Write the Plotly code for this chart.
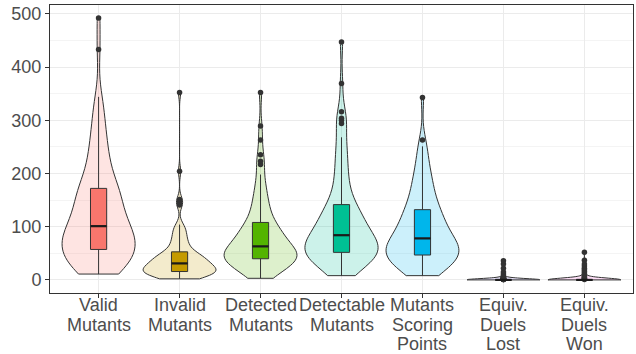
import numpy as np
import plotly.graph_objects as go

categories = ["Valid<br>Mutants", "Invalid<br>Mutants", "Detected<br>Mutants",
              "Detectable<br>Mutants", "Mutants<br>Scoring<br>Points",
              "Equiv.<br>Duels<br>Lost", "Equiv.<br>Duels<br>Won"]

valid_mutants = [
    11, 13, 15, 18, 20, 22, 25, 27, 29, 32, 34, 36, 39, 41, 43, 46, 48, 50, 53, 55, 58,
    60, 62, 64, 66, 68, 70, 73, 75, 77, 79, 81, 83, 86, 88, 90, 92, 94, 96, 99, 101,
    104, 107, 111, 115, 119, 123, 127, 131, 135, 139, 143, 147, 151, 155, 159, 162, 165, 167, 169, 171,
    175, 182, 189, 196, 203, 210, 218, 226, 234, 243, 252, 262, 273, 285, 298, 312, 330,
    344, 433, 492]

invalid_mutants = [
    2, 3, 4, 5, 5, 6, 7, 8, 8, 9, 10, 10, 11, 12, 12, 13, 14, 14, 15, 15, 16,
    17, 17, 18, 19, 19, 20, 21, 21, 22, 23, 24, 24, 25, 26, 27, 27, 28, 29, 30, 31,
    32, 33, 34, 35, 36, 37, 38, 39, 40, 41, 42, 43, 44, 45, 46, 47, 48, 50, 51, 52,
    55, 58, 61, 64, 67, 70, 73, 76, 80, 84, 88, 92, 96, 100, 104,
    141, 146, 151, 204, 352]

detected_mutants = [
    3, 6, 9, 12, 15, 17, 19, 21, 23, 25, 27, 28, 30, 31, 32, 34, 35, 36, 37, 39, 40,
    41, 42, 43, 44, 45, 46, 47, 48, 49, 50, 51, 52, 53, 54, 55, 57, 58, 60, 61, 63,
    65, 67, 69, 71, 73, 75, 77, 79, 81, 83, 85, 87, 89, 91, 93, 96, 99, 101, 104, 107,
    111, 115, 120, 125, 130, 135, 141, 147, 153, 160, 168, 176, 186, 198,
    217, 223, 235, 263, 289, 352]

detectable_mutants = [
    8, 13, 17, 21, 24, 27, 29, 31, 33, 35, 37, 39, 40, 42, 43, 45, 46, 48, 49, 51, 52,
    53, 55, 56, 58, 59, 61, 62, 64, 65, 67, 68, 70, 72, 73, 75, 77, 79, 80, 82, 84,
    86, 89, 91, 94, 96, 99, 102, 104, 107, 110, 113, 116, 119, 122, 125, 128, 131, 134, 137, 140,
    146, 153, 160, 168, 176, 185, 194, 203, 214, 224, 235, 246, 257, 268,
    294, 300, 304, 316, 369, 447]

scoring_points = [
    8, 11, 14, 17, 19, 21, 23, 25, 27, 29, 31, 33, 35, 36, 38, 40, 41, 43, 44, 46, 47,
    48, 50, 51, 53, 54, 56, 57, 59, 60, 62, 63, 65, 66, 68, 69, 71, 72, 74, 76, 78,
    80, 83, 85, 88, 90, 93, 95, 98, 100, 103, 106, 109, 112, 115, 118, 121, 124, 126, 128, 131,
    135, 140, 145, 150, 155, 159, 164, 169, 175, 181, 187, 194, 201, 208, 216, 228, 240, 251,
    263, 343]

duels_lost = [
    0, 0, 0, 0, 0, 0, 0, 0, 0, 0, 0, 0, 0, 0, 0, 0,
    0, 0, 0, 0, 0, 0, 0, 0, 0, 0, 0, 0, 0, 0, 0, 0,
    0, 0, 0, 0, 0, 0, 0, 0, 0, 0, 0, 0, 0, 0, 0, 0,
    0, 0, 0, 0, 0, 0, 0, 0, 0, 0, 0, 0, 0, 0, 0, 0,
    1, 1, 1, 1, 2, 2, 2, 2, 3, 3, 3, 4, 4, 5, 6, 8, 11, 15, 22, 30, 36]

duels_won = [
    0, 0, 0, 0, 0, 0, 0, 0, 0, 0, 0, 0, 0, 0, 0, 0, 0, 0, 0, 0, 0, 0,
    0, 0, 0, 0, 0, 0, 0, 0, 0, 0, 0, 0, 0, 0, 0, 0, 0, 0, 0, 0, 0, 0,
    0, 0, 0, 0, 0, 0, 0, 0, 0, 0, 0, 0, 0, 0, 0, 0, 0, 0, 0, 0, 0, 0,
    1, 2, 3, 4, 6, 8, 10, 13, 16, 19, 22, 26, 30, 37, 52]

series = [valid_mutants, invalid_mutants, detected_mutants, detectable_mutants,
          scoring_points, duels_lost, duels_won]

box_colors = ["#F8766D", "#C49A00", "#53B400", "#00C094", "#00B6EB", "#A58AFF", "#FB61D7"]

y_ticks = [0, 100, 200, 300, 400, 500]

VIOLIN_WIDTH = 0.9
BOX_WIDTH = 0.2


def nrd0(values):
    a = np.asarray(values, dtype=float)
    sd = a.std(ddof=1)
    q1, q3 = np.percentile(a, [25, 75])
    lo = min(sd, (q3 - q1) / 1.34)
    if lo == 0:
        lo = sd
    return 0.9 * lo * len(a) ** -0.2


def rgba(hex_color, alpha):
    h = hex_color.lstrip("#")
    r, g, b = int(h[0:2], 16), int(h[2:4], 16), int(h[4:6], 16)
    return f"rgba({r},{g},{b},{alpha})"


fig = go.Figure()
positions = list(range(len(categories)))
for pos, cat, vals, col in zip(positions, categories, series, box_colors):
    fig.add_trace(go.Violin(
        x=[pos] * len(vals), y=vals, name=cat.replace("<br>", " "),
        width=VIOLIN_WIDTH, spanmode="hard", scalemode="width",
        bandwidth=nrd0(vals),
        fillcolor=rgba(col, 0.2),
        line=dict(color="#333333", width=1),
        box=dict(visible=True, width=BOX_WIDTH / VIOLIN_WIDTH, fillcolor=col,
                 line=dict(color="#333333", width=1)),
        meanline=dict(visible=False),
        points="outliers", jitter=0, pointpos=0,
        marker=dict(color="#333333", size=5.5, line=dict(width=0)),
        showlegend=False, hoverinfo="y",
    ))

# thicker median bars (ggplot's fatten = 2), computed from the data
med_x, med_y = [], []
for pos, vals in zip(positions, series):
    m = float(np.median(vals))
    med_x += [pos - BOX_WIDTH / 2, pos + BOX_WIDTH / 2, None]
    med_y += [m, m, None]
fig.add_trace(go.Scatter(x=med_x, y=med_y, mode="lines",
                         line=dict(color="#1a1a1a", width=2.2),
                         showlegend=False, hoverinfo="skip"))

all_vals = np.concatenate([np.asarray(s, float) for s in series])
lo, hi = all_vals.min(), all_vals.max()
pad = 0.05 * (hi - lo)

FS = 18
font = dict(family="Liberation Sans, Arial, sans-serif", size=FS, color="#4D4D4D")

# category labels, one annotation per text line (ggplot-like tight line spacing)
annotations = []
for pos, cat in zip(positions, categories):
    for k, line in enumerate(cat.split("<br>")):
        annotations.append(dict(
            x=pos, y=0, xref="x", yref="paper", yanchor="middle", xanchor="center",
            yshift=-(12 + 19.5 * k), text=line, showarrow=False, font=font))

fig.update_layout(
    template="none",
    width=636, height=354,
    margin=dict(l=50, r=3, t=5, b=61, pad=0),
    paper_bgcolor="white", plot_bgcolor="white",
    violinmode="overlay",
    font=font,
    annotations=annotations,
    xaxis=dict(
        range=[-0.6, len(categories) - 0.4],
        tickvals=positions, showticklabels=False,
        showgrid=True, gridcolor="#EBEBEB", gridwidth=1,
        showline=True, mirror=True, linecolor="#333333", linewidth=1,
        ticks="outside", ticklen=4, tickcolor="#333333", tickwidth=1,
        zeroline=False, fixedrange=True, automargin=False,
    ),
    yaxis=dict(
        range=[lo - pad, hi + pad],
        tickvals=y_ticks,
        showgrid=True, gridcolor="#EBEBEB", gridwidth=1,
        minor=dict(tickvals=[50, 150, 250, 350, 450], showgrid=True,
                   gridcolor="#F4F4F4", gridwidth=0.6, ticks=""),
        showline=True, mirror=True, linecolor="#333333", linewidth=1,
        ticks="outside", ticklen=4, tickcolor="#333333", tickwidth=1,
        tickfont=font, zeroline=False, fixedrange=True, automargin=False,
    ),
)

fig.write_html(
    "out.html",
    config={"displayModeBar": False},
    post_script="document.body.style.margin='0';document.body.style.padding='0';",
)
